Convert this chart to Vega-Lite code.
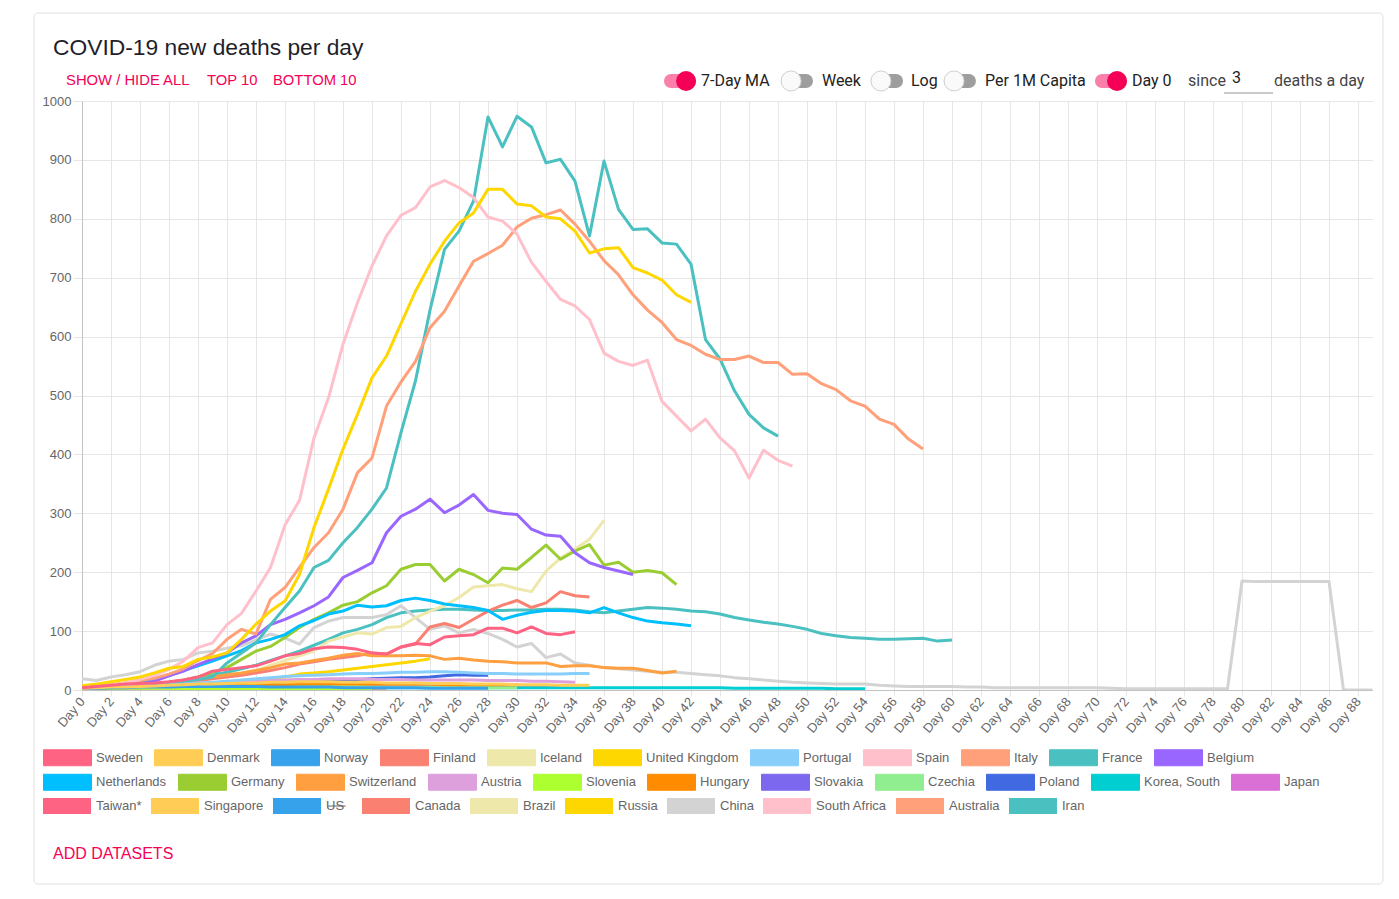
{
  "$schema": "https://vega.github.io/schema/vega-lite/v6.json",
  "width": 1290.5,
  "height": 589,
  "autosize": {"type": "pad"},
  "padding": {"left": 33, "top": 12, "right": 17, "bottom": 16},
  "background": "white",
  "config": {
    "view": {"stroke": null},
    "axis": {
      "labelFont": "Liberation Sans",
      "labelFontSize": 13,
      "labelColor": "#666666",
      "grid": true,
      "gridColor": "#e6e6e6",
      "tickColor": "#e6e6e6",
      "domainColor": "#c2c2c2",
      "labelOverlap": false,
      "title": null
    },
    "legend": {
      "title": null,
      "orient": "none",
      "legendX": -39,
      "direction": "horizontal",
      "gridAlign": "each",
      "symbolType": "M-3,-1H3V1H-3Z",
      "symbolSize": 256,
      "symbolOffset": 16,
      "symbolOpacity": 1,
      "labelOffset": 20,
      "columnPadding": 9,
      "labelFont": "Liberation Sans",
      "labelFontSize": 13,
      "labelColor": "#666666",
      "symbolLimit": 0
    }
  },
  "layer": [
    {
      "data": {"values": [
{"country":"Iran","day":0,"deaths":3},{"country":"Iran","day":1,"deaths":4},{"country":"Iran","day":2,"deaths":5},{"country":"Iran","day":3,"deaths":6},{"country":"Iran","day":4,"deaths":8},{"country":"Iran","day":5,"deaths":10},{"country":"Iran","day":6,"deaths":13},{"country":"Iran","day":7,"deaths":16},{"country":"Iran","day":8,"deaths":20},{"country":"Iran","day":9,"deaths":25},
{"country":"Iran","day":10,"deaths":30},{"country":"Iran","day":11,"deaths":36},{"country":"Iran","day":12,"deaths":42},{"country":"Iran","day":13,"deaths":50},{"country":"Iran","day":14,"deaths":58},{"country":"Iran","day":15,"deaths":66},{"country":"Iran","day":16,"deaths":76},{"country":"Iran","day":17,"deaths":86},{"country":"Iran","day":18,"deaths":97},{"country":"Iran","day":19,"deaths":103},
{"country":"Iran","day":20,"deaths":111},{"country":"Iran","day":21,"deaths":123},{"country":"Iran","day":22,"deaths":131},{"country":"Iran","day":23,"deaths":134},{"country":"Iran","day":24,"deaths":136},{"country":"Iran","day":25,"deaths":137},{"country":"Iran","day":26,"deaths":137},{"country":"Iran","day":27,"deaths":136},{"country":"Iran","day":28,"deaths":135},{"country":"Iran","day":29,"deaths":135},
{"country":"Iran","day":30,"deaths":136},{"country":"Iran","day":31,"deaths":136},{"country":"Iran","day":32,"deaths":137},{"country":"Iran","day":33,"deaths":137},{"country":"Iran","day":34,"deaths":136},{"country":"Iran","day":35,"deaths":133},{"country":"Iran","day":36,"deaths":131},{"country":"Iran","day":37,"deaths":134},{"country":"Iran","day":38,"deaths":137},{"country":"Iran","day":39,"deaths":140},
{"country":"Iran","day":40,"deaths":139},{"country":"Iran","day":41,"deaths":137},{"country":"Iran","day":42,"deaths":134},{"country":"Iran","day":43,"deaths":133},{"country":"Iran","day":44,"deaths":129},{"country":"Iran","day":45,"deaths":123},{"country":"Iran","day":46,"deaths":119},{"country":"Iran","day":47,"deaths":115},{"country":"Iran","day":48,"deaths":112},{"country":"Iran","day":49,"deaths":108},
{"country":"Iran","day":50,"deaths":103},{"country":"Iran","day":51,"deaths":96},{"country":"Iran","day":52,"deaths":92},{"country":"Iran","day":53,"deaths":89},{"country":"Iran","day":54,"deaths":88},{"country":"Iran","day":55,"deaths":86},{"country":"Iran","day":56,"deaths":86},{"country":"Iran","day":57,"deaths":87},{"country":"Iran","day":58,"deaths":88},{"country":"Iran","day":59,"deaths":83},{"country":"Iran","day":60,"deaths":85},
{"country":"Australia","day":0,"deaths":3},{"country":"Australia","day":1,"deaths":3},{"country":"Australia","day":2,"deaths":3},{"country":"Australia","day":3,"deaths":3},{"country":"Australia","day":4,"deaths":3},{"country":"Australia","day":5,"deaths":3},{"country":"Australia","day":6,"deaths":3},{"country":"Australia","day":7,"deaths":3},{"country":"Australia","day":8,"deaths":2},{"country":"Australia","day":9,"deaths":2},{"country":"Australia","day":10,"deaths":2},{"country":"Australia","day":11,"deaths":2},{"country":"Australia","day":12,"deaths":2},{"country":"Australia","day":13,"deaths":2},{"country":"Australia","day":14,"deaths":2},{"country":"Australia","day":15,"deaths":1},{"country":"Australia","day":16,"deaths":1},{"country":"Australia","day":17,"deaths":1},{"country":"Australia","day":18,"deaths":1},{"country":"Australia","day":19,"deaths":1},{"country":"Australia","day":20,"deaths":1},{"country":"Australia","day":21,"deaths":1},
{"country":"China","day":0,"deaths":19},{"country":"China","day":1,"deaths":16},{"country":"China","day":2,"deaths":22},{"country":"China","day":3,"deaths":26},{"country":"China","day":4,"deaths":31},{"country":"China","day":5,"deaths":42},{"country":"China","day":6,"deaths":49},{"country":"China","day":7,"deaths":52},{"country":"China","day":8,"deaths":63},{"country":"China","day":9,"deaths":66},
{"country":"China","day":10,"deaths":71},{"country":"China","day":11,"deaths":75},{"country":"China","day":12,"deaths":85},{"country":"China","day":13,"deaths":95},{"country":"China","day":14,"deaths":88},{"country":"China","day":15,"deaths":78},{"country":"China","day":16,"deaths":106},{"country":"China","day":17,"deaths":117},{"country":"China","day":18,"deaths":123},{"country":"China","day":19,"deaths":123},
{"country":"China","day":20,"deaths":123},{"country":"China","day":21,"deaths":128},{"country":"China","day":22,"deaths":143},{"country":"China","day":23,"deaths":123},{"country":"China","day":24,"deaths":103},{"country":"China","day":25,"deaths":109},{"country":"China","day":26,"deaths":97},{"country":"China","day":27,"deaths":103},{"country":"China","day":28,"deaths":96},{"country":"China","day":29,"deaths":86},
{"country":"China","day":30,"deaths":73},{"country":"China","day":31,"deaths":79},{"country":"China","day":32,"deaths":55},{"country":"China","day":33,"deaths":61},{"country":"China","day":34,"deaths":46},{"country":"China","day":35,"deaths":42},{"country":"China","day":36,"deaths":38},{"country":"China","day":37,"deaths":36},{"country":"China","day":38,"deaths":34},{"country":"China","day":39,"deaths":32},
{"country":"China","day":40,"deaths":30},{"country":"China","day":41,"deaths":30},{"country":"China","day":42,"deaths":28},{"country":"China","day":43,"deaths":26},{"country":"China","day":44,"deaths":24},{"country":"China","day":45,"deaths":21},{"country":"China","day":46,"deaths":19},{"country":"China","day":47,"deaths":17},{"country":"China","day":48,"deaths":15},{"country":"China","day":49,"deaths":13},
{"country":"China","day":50,"deaths":12},{"country":"China","day":51,"deaths":11},{"country":"China","day":52,"deaths":10},{"country":"China","day":53,"deaths":10},{"country":"China","day":54,"deaths":10},{"country":"China","day":55,"deaths":8},{"country":"China","day":56,"deaths":7},{"country":"China","day":57,"deaths":6},{"country":"China","day":58,"deaths":6},{"country":"China","day":59,"deaths":6},
{"country":"China","day":60,"deaths":6},{"country":"China","day":61,"deaths":5},{"country":"China","day":62,"deaths":5},{"country":"China","day":63,"deaths":4},{"country":"China","day":64,"deaths":4},{"country":"China","day":65,"deaths":4},{"country":"China","day":66,"deaths":4},{"country":"China","day":67,"deaths":4},{"country":"China","day":68,"deaths":4},{"country":"China","day":69,"deaths":4},
{"country":"China","day":70,"deaths":4},{"country":"China","day":71,"deaths":3},{"country":"China","day":72,"deaths":2},{"country":"China","day":73,"deaths":2},{"country":"China","day":74,"deaths":2},{"country":"China","day":75,"deaths":2},{"country":"China","day":76,"deaths":2},{"country":"China","day":77,"deaths":2},{"country":"China","day":78,"deaths":2},{"country":"China","day":79,"deaths":2},
{"country":"China","day":80,"deaths":185},{"country":"China","day":81,"deaths":184},{"country":"China","day":82,"deaths":184},{"country":"China","day":83,"deaths":184},{"country":"China","day":84,"deaths":184},{"country":"China","day":85,"deaths":184},{"country":"China","day":86,"deaths":184},{"country":"China","day":87,"deaths":0},{"country":"China","day":88,"deaths":0},{"country":"China","day":89,"deaths":0},
{"country":"Russia","day":0,"deaths":3},{"country":"Russia","day":1,"deaths":3},{"country":"Russia","day":2,"deaths":4},{"country":"Russia","day":3,"deaths":4},{"country":"Russia","day":4,"deaths":5},{"country":"Russia","day":5,"deaths":6},{"country":"Russia","day":6,"deaths":7},{"country":"Russia","day":7,"deaths":8},{"country":"Russia","day":8,"deaths":9},{"country":"Russia","day":9,"deaths":11},{"country":"Russia","day":10,"deaths":13},{"country":"Russia","day":11,"deaths":15},{"country":"Russia","day":12,"deaths":17},{"country":"Russia","day":13,"deaths":19},{"country":"Russia","day":14,"deaths":22},{"country":"Russia","day":15,"deaths":27},{"country":"Russia","day":16,"deaths":29},{"country":"Russia","day":17,"deaths":31},{"country":"Russia","day":18,"deaths":34},{"country":"Russia","day":19,"deaths":37},{"country":"Russia","day":20,"deaths":40},{"country":"Russia","day":21,"deaths":43},{"country":"Russia","day":22,"deaths":46},{"country":"Russia","day":23,"deaths":49},{"country":"Russia","day":24,"deaths":53},
{"country":"Brazil","day":0,"deaths":3},{"country":"Brazil","day":1,"deaths":4},{"country":"Brazil","day":2,"deaths":5},{"country":"Brazil","day":3,"deaths":6},{"country":"Brazil","day":4,"deaths":8},{"country":"Brazil","day":5,"deaths":10},{"country":"Brazil","day":6,"deaths":12},{"country":"Brazil","day":7,"deaths":14},{"country":"Brazil","day":8,"deaths":17},{"country":"Brazil","day":9,"deaths":20},
{"country":"Brazil","day":10,"deaths":24},{"country":"Brazil","day":11,"deaths":28},{"country":"Brazil","day":12,"deaths":33},{"country":"Brazil","day":13,"deaths":42},{"country":"Brazil","day":14,"deaths":50},{"country":"Brazil","day":15,"deaths":58},{"country":"Brazil","day":16,"deaths":66},{"country":"Brazil","day":17,"deaths":83},{"country":"Brazil","day":18,"deaths":90},{"country":"Brazil","day":19,"deaths":97},
{"country":"Brazil","day":20,"deaths":95},{"country":"Brazil","day":21,"deaths":106},{"country":"Brazil","day":22,"deaths":108},{"country":"Brazil","day":23,"deaths":123},{"country":"Brazil","day":24,"deaths":134},{"country":"Brazil","day":25,"deaths":143},{"country":"Brazil","day":26,"deaths":157},{"country":"Brazil","day":27,"deaths":175},{"country":"Brazil","day":28,"deaths":177},{"country":"Brazil","day":29,"deaths":179},
{"country":"Brazil","day":30,"deaths":172},{"country":"Brazil","day":31,"deaths":167},{"country":"Brazil","day":32,"deaths":202},{"country":"Brazil","day":33,"deaths":224},{"country":"Brazil","day":34,"deaths":239},{"country":"Brazil","day":35,"deaths":256},{"country":"Brazil","day":36,"deaths":288},
{"country":"Canada","day":0,"deaths":3},{"country":"Canada","day":1,"deaths":4},{"country":"Canada","day":2,"deaths":5},{"country":"Canada","day":3,"deaths":6},{"country":"Canada","day":4,"deaths":7},{"country":"Canada","day":5,"deaths":9},{"country":"Canada","day":6,"deaths":11},{"country":"Canada","day":7,"deaths":13},{"country":"Canada","day":8,"deaths":16},{"country":"Canada","day":9,"deaths":19},
{"country":"Canada","day":10,"deaths":22},{"country":"Canada","day":11,"deaths":25},{"country":"Canada","day":12,"deaths":29},{"country":"Canada","day":13,"deaths":33},{"country":"Canada","day":14,"deaths":38},{"country":"Canada","day":15,"deaths":44},{"country":"Canada","day":16,"deaths":48},{"country":"Canada","day":17,"deaths":52},{"country":"Canada","day":18,"deaths":55},{"country":"Canada","day":19,"deaths":58},
{"country":"Canada","day":20,"deaths":63},{"country":"Canada","day":21,"deaths":61},{"country":"Canada","day":22,"deaths":73},{"country":"Canada","day":23,"deaths":78},{"country":"Canada","day":24,"deaths":107},{"country":"Canada","day":25,"deaths":113},{"country":"Canada","day":26,"deaths":106},{"country":"Canada","day":27,"deaths":120},{"country":"Canada","day":28,"deaths":134},{"country":"Canada","day":29,"deaths":144},
{"country":"Canada","day":30,"deaths":152},{"country":"Canada","day":31,"deaths":140},{"country":"Canada","day":32,"deaths":148},{"country":"Canada","day":33,"deaths":167},{"country":"Canada","day":34,"deaths":160},{"country":"Canada","day":35,"deaths":158},
{"country":"Japan","day":0,"deaths":3},{"country":"Japan","day":1,"deaths":3},{"country":"Japan","day":2,"deaths":3},{"country":"Japan","day":3,"deaths":3},{"country":"Japan","day":4,"deaths":3},{"country":"Japan","day":5,"deaths":4},{"country":"Japan","day":6,"deaths":4},{"country":"Japan","day":7,"deaths":4},{"country":"Japan","day":8,"deaths":4},{"country":"Japan","day":9,"deaths":5},{"country":"Japan","day":10,"deaths":5},{"country":"Japan","day":11,"deaths":5},{"country":"Japan","day":12,"deaths":6},{"country":"Japan","day":13,"deaths":6},{"country":"Japan","day":14,"deaths":6},{"country":"Japan","day":15,"deaths":7},{"country":"Japan","day":16,"deaths":7},{"country":"Japan","day":17,"deaths":7},{"country":"Japan","day":18,"deaths":8},{"country":"Japan","day":19,"deaths":8},{"country":"Japan","day":20,"deaths":8},{"country":"Japan","day":21,"deaths":8},{"country":"Japan","day":22,"deaths":8},{"country":"Japan","day":23,"deaths":8},{"country":"Japan","day":24,"deaths":8},{"country":"Japan","day":25,"deaths":7},{"country":"Japan","day":26,"deaths":7},{"country":"Japan","day":27,"deaths":7},{"country":"Japan","day":28,"deaths":7},{"country":"Japan","day":29,"deaths":7},{"country":"Japan","day":30,"deaths":6},{"country":"Japan","day":31,"deaths":6},{"country":"Japan","day":32,"deaths":6},{"country":"Japan","day":33,"deaths":6},
{"country":"Korea, South","day":0,"deaths":4},{"country":"Korea, South","day":1,"deaths":5},{"country":"Korea, South","day":2,"deaths":5},{"country":"Korea, South","day":3,"deaths":6},{"country":"Korea, South","day":4,"deaths":6},{"country":"Korea, South","day":5,"deaths":6},{"country":"Korea, South","day":6,"deaths":6},{"country":"Korea, South","day":7,"deaths":6},{"country":"Korea, South","day":8,"deaths":6},{"country":"Korea, South","day":9,"deaths":5},
{"country":"Korea, South","day":10,"deaths":5},{"country":"Korea, South","day":11,"deaths":5},{"country":"Korea, South","day":12,"deaths":5},{"country":"Korea, South","day":13,"deaths":5},{"country":"Korea, South","day":14,"deaths":5},{"country":"Korea, South","day":15,"deaths":5},{"country":"Korea, South","day":16,"deaths":5},{"country":"Korea, South","day":17,"deaths":5},{"country":"Korea, South","day":18,"deaths":5},{"country":"Korea, South","day":19,"deaths":5},
{"country":"Korea, South","day":20,"deaths":4},{"country":"Korea, South","day":21,"deaths":4},{"country":"Korea, South","day":22,"deaths":4},{"country":"Korea, South","day":23,"deaths":4},{"country":"Korea, South","day":24,"deaths":4},{"country":"Korea, South","day":25,"deaths":4},{"country":"Korea, South","day":26,"deaths":4},{"country":"Korea, South","day":27,"deaths":4},{"country":"Korea, South","day":28,"deaths":4},{"country":"Korea, South","day":29,"deaths":4},
{"country":"Korea, South","day":30,"deaths":4},{"country":"Korea, South","day":31,"deaths":4},{"country":"Korea, South","day":32,"deaths":4},{"country":"Korea, South","day":33,"deaths":4},{"country":"Korea, South","day":34,"deaths":4},{"country":"Korea, South","day":35,"deaths":4},{"country":"Korea, South","day":36,"deaths":4},{"country":"Korea, South","day":37,"deaths":4},{"country":"Korea, South","day":38,"deaths":4},{"country":"Korea, South","day":39,"deaths":4},
{"country":"Korea, South","day":40,"deaths":4},{"country":"Korea, South","day":41,"deaths":4},{"country":"Korea, South","day":42,"deaths":4},{"country":"Korea, South","day":43,"deaths":4},{"country":"Korea, South","day":44,"deaths":4},{"country":"Korea, South","day":45,"deaths":3},{"country":"Korea, South","day":46,"deaths":3},{"country":"Korea, South","day":47,"deaths":3},{"country":"Korea, South","day":48,"deaths":3},{"country":"Korea, South","day":49,"deaths":3},
{"country":"Korea, South","day":50,"deaths":3},{"country":"Korea, South","day":51,"deaths":3},{"country":"Korea, South","day":52,"deaths":2},{"country":"Korea, South","day":53,"deaths":2},{"country":"Korea, South","day":54,"deaths":2},
{"country":"Poland","day":0,"deaths":3},{"country":"Poland","day":1,"deaths":4},{"country":"Poland","day":2,"deaths":4},{"country":"Poland","day":3,"deaths":5},{"country":"Poland","day":4,"deaths":5},{"country":"Poland","day":5,"deaths":6},{"country":"Poland","day":6,"deaths":6},{"country":"Poland","day":7,"deaths":7},{"country":"Poland","day":8,"deaths":8},{"country":"Poland","day":9,"deaths":8},{"country":"Poland","day":10,"deaths":9},{"country":"Poland","day":11,"deaths":10},{"country":"Poland","day":12,"deaths":11},{"country":"Poland","day":13,"deaths":12},{"country":"Poland","day":14,"deaths":13},{"country":"Poland","day":15,"deaths":14},{"country":"Poland","day":16,"deaths":15},{"country":"Poland","day":17,"deaths":16},{"country":"Poland","day":18,"deaths":17},{"country":"Poland","day":19,"deaths":18},{"country":"Poland","day":20,"deaths":19},{"country":"Poland","day":21,"deaths":20},{"country":"Poland","day":22,"deaths":21},{"country":"Poland","day":23,"deaths":21},{"country":"Poland","day":24,"deaths":22},{"country":"Poland","day":25,"deaths":24},{"country":"Poland","day":26,"deaths":26},{"country":"Poland","day":27,"deaths":25},{"country":"Poland","day":28,"deaths":25},
{"country":"Czechia","day":0,"deaths":3},{"country":"Czechia","day":1,"deaths":3},{"country":"Czechia","day":2,"deaths":4},{"country":"Czechia","day":3,"deaths":4},{"country":"Czechia","day":4,"deaths":5},{"country":"Czechia","day":5,"deaths":5},{"country":"Czechia","day":6,"deaths":6},{"country":"Czechia","day":7,"deaths":6},{"country":"Czechia","day":8,"deaths":7},{"country":"Czechia","day":9,"deaths":7},{"country":"Czechia","day":10,"deaths":7},{"country":"Czechia","day":11,"deaths":7},{"country":"Czechia","day":12,"deaths":7},{"country":"Czechia","day":13,"deaths":7},{"country":"Czechia","day":14,"deaths":6},{"country":"Czechia","day":15,"deaths":6},{"country":"Czechia","day":16,"deaths":6},{"country":"Czechia","day":17,"deaths":6},{"country":"Czechia","day":18,"deaths":6},{"country":"Czechia","day":19,"deaths":6},{"country":"Czechia","day":20,"deaths":5},{"country":"Czechia","day":21,"deaths":5},{"country":"Czechia","day":22,"deaths":5},{"country":"Czechia","day":23,"deaths":5},{"country":"Czechia","day":24,"deaths":5},{"country":"Czechia","day":25,"deaths":5},{"country":"Czechia","day":26,"deaths":4},{"country":"Czechia","day":27,"deaths":4},{"country":"Czechia","day":28,"deaths":4},{"country":"Czechia","day":29,"deaths":4},{"country":"Czechia","day":30,"deaths":4},
{"country":"Hungary","day":0,"deaths":3},{"country":"Hungary","day":1,"deaths":3},{"country":"Hungary","day":2,"deaths":4},{"country":"Hungary","day":3,"deaths":4},{"country":"Hungary","day":4,"deaths":5},{"country":"Hungary","day":5,"deaths":5},{"country":"Hungary","day":6,"deaths":6},{"country":"Hungary","day":7,"deaths":6},{"country":"Hungary","day":8,"deaths":7},{"country":"Hungary","day":9,"deaths":7},{"country":"Hungary","day":10,"deaths":8},{"country":"Hungary","day":11,"deaths":8},{"country":"Hungary","day":12,"deaths":9},{"country":"Hungary","day":13,"deaths":9},{"country":"Hungary","day":14,"deaths":9},{"country":"Hungary","day":15,"deaths":10},{"country":"Hungary","day":16,"deaths":10},{"country":"Hungary","day":17,"deaths":10},{"country":"Hungary","day":18,"deaths":10},{"country":"Hungary","day":19,"deaths":10},{"country":"Hungary","day":20,"deaths":10},{"country":"Hungary","day":21,"deaths":10},{"country":"Hungary","day":22,"deaths":10},{"country":"Hungary","day":23,"deaths":10},{"country":"Hungary","day":24,"deaths":10},{"country":"Hungary","day":25,"deaths":9},{"country":"Hungary","day":26,"deaths":9},{"country":"Hungary","day":27,"deaths":9},{"country":"Hungary","day":28,"deaths":9},{"country":"Hungary","day":29,"deaths":9},{"country":"Hungary","day":30,"deaths":9},
{"country":"Slovenia","day":0,"deaths":3},{"country":"Slovenia","day":1,"deaths":3},{"country":"Slovenia","day":2,"deaths":3},{"country":"Slovenia","day":3,"deaths":3},{"country":"Slovenia","day":4,"deaths":3},{"country":"Slovenia","day":5,"deaths":3},{"country":"Slovenia","day":6,"deaths":3},{"country":"Slovenia","day":7,"deaths":2},{"country":"Slovenia","day":8,"deaths":2},{"country":"Slovenia","day":9,"deaths":2},{"country":"Slovenia","day":10,"deaths":2},{"country":"Slovenia","day":11,"deaths":2},{"country":"Slovenia","day":12,"deaths":2},{"country":"Slovenia","day":13,"deaths":2},{"country":"Slovenia","day":14,"deaths":1},{"country":"Slovenia","day":15,"deaths":1},{"country":"Slovenia","day":16,"deaths":1},{"country":"Slovenia","day":17,"deaths":1},{"country":"Slovenia","day":18,"deaths":1},{"country":"Slovenia","day":19,"deaths":1},{"country":"Slovenia","day":20,"deaths":1},
{"country":"Austria","day":0,"deaths":3},{"country":"Austria","day":1,"deaths":4},{"country":"Austria","day":2,"deaths":5},{"country":"Austria","day":3,"deaths":6},{"country":"Austria","day":4,"deaths":7},{"country":"Austria","day":5,"deaths":8},{"country":"Austria","day":6,"deaths":9},{"country":"Austria","day":7,"deaths":10},{"country":"Austria","day":8,"deaths":11},{"country":"Austria","day":9,"deaths":12},{"country":"Austria","day":10,"deaths":13},{"country":"Austria","day":11,"deaths":14},{"country":"Austria","day":12,"deaths":15},{"country":"Austria","day":13,"deaths":16},{"country":"Austria","day":14,"deaths":17},{"country":"Austria","day":15,"deaths":18},{"country":"Austria","day":16,"deaths":18},{"country":"Austria","day":17,"deaths":19},{"country":"Austria","day":18,"deaths":19},{"country":"Austria","day":19,"deaths":19},{"country":"Austria","day":20,"deaths":18},{"country":"Austria","day":21,"deaths":18},{"country":"Austria","day":22,"deaths":18},{"country":"Austria","day":23,"deaths":17},{"country":"Austria","day":24,"deaths":17},{"country":"Austria","day":25,"deaths":17},{"country":"Austria","day":26,"deaths":17},{"country":"Austria","day":27,"deaths":17},{"country":"Austria","day":28,"deaths":16},{"country":"Austria","day":29,"deaths":16},{"country":"Austria","day":30,"deaths":16},{"country":"Austria","day":31,"deaths":15},{"country":"Austria","day":32,"deaths":15},{"country":"Austria","day":33,"deaths":14},{"country":"Austria","day":34,"deaths":13},
{"country":"Switzerland","day":0,"deaths":3},{"country":"Switzerland","day":1,"deaths":4},{"country":"Switzerland","day":2,"deaths":5},{"country":"Switzerland","day":3,"deaths":7},{"country":"Switzerland","day":4,"deaths":9},{"country":"Switzerland","day":5,"deaths":11},{"country":"Switzerland","day":6,"deaths":13},{"country":"Switzerland","day":7,"deaths":16},{"country":"Switzerland","day":8,"deaths":19},{"country":"Switzerland","day":9,"deaths":22},
{"country":"Switzerland","day":10,"deaths":26},{"country":"Switzerland","day":11,"deaths":29},{"country":"Switzerland","day":12,"deaths":33},{"country":"Switzerland","day":13,"deaths":38},{"country":"Switzerland","day":14,"deaths":44},{"country":"Switzerland","day":15,"deaths":46},{"country":"Switzerland","day":16,"deaths":50},{"country":"Switzerland","day":17,"deaths":54},{"country":"Switzerland","day":18,"deaths":59},{"country":"Switzerland","day":19,"deaths":62},
{"country":"Switzerland","day":20,"deaths":58},{"country":"Switzerland","day":21,"deaths":58},{"country":"Switzerland","day":22,"deaths":58},{"country":"Switzerland","day":23,"deaths":59},{"country":"Switzerland","day":24,"deaths":58},{"country":"Switzerland","day":25,"deaths":52},{"country":"Switzerland","day":26,"deaths":54},{"country":"Switzerland","day":27,"deaths":51},{"country":"Switzerland","day":28,"deaths":49},{"country":"Switzerland","day":29,"deaths":48},
{"country":"Switzerland","day":30,"deaths":46},{"country":"Switzerland","day":31,"deaths":46},{"country":"Switzerland","day":32,"deaths":46},{"country":"Switzerland","day":33,"deaths":40},{"country":"Switzerland","day":34,"deaths":41},{"country":"Switzerland","day":35,"deaths":41},{"country":"Switzerland","day":36,"deaths":38},{"country":"Switzerland","day":37,"deaths":37},{"country":"Switzerland","day":38,"deaths":37},{"country":"Switzerland","day":39,"deaths":33},{"country":"Switzerland","day":40,"deaths":29},{"country":"Switzerland","day":41,"deaths":32},
{"country":"Germany","day":0,"deaths":3},{"country":"Germany","day":1,"deaths":3},{"country":"Germany","day":2,"deaths":4},{"country":"Germany","day":3,"deaths":5},{"country":"Germany","day":4,"deaths":7},{"country":"Germany","day":5,"deaths":9},{"country":"Germany","day":6,"deaths":12},{"country":"Germany","day":7,"deaths":17},{"country":"Germany","day":8,"deaths":22},{"country":"Germany","day":9,"deaths":30},
{"country":"Germany","day":10,"deaths":38},{"country":"Germany","day":11,"deaths":52},{"country":"Germany","day":12,"deaths":66},{"country":"Germany","day":13,"deaths":74},{"country":"Germany","day":14,"deaths":89},{"country":"Germany","day":15,"deaths":106},{"country":"Germany","day":16,"deaths":120},{"country":"Germany","day":17,"deaths":131},{"country":"Germany","day":18,"deaths":144},{"country":"Germany","day":19,"deaths":150},
{"country":"Germany","day":20,"deaths":165},{"country":"Germany","day":21,"deaths":177},{"country":"Germany","day":22,"deaths":205},{"country":"Germany","day":23,"deaths":213},{"country":"Germany","day":24,"deaths":213},{"country":"Germany","day":25,"deaths":185},{"country":"Germany","day":26,"deaths":205},{"country":"Germany","day":27,"deaths":196},{"country":"Germany","day":28,"deaths":182},{"country":"Germany","day":29,"deaths":207},
{"country":"Germany","day":30,"deaths":205},{"country":"Germany","day":31,"deaths":225},{"country":"Germany","day":32,"deaths":246},{"country":"Germany","day":33,"deaths":222},{"country":"Germany","day":34,"deaths":236},{"country":"Germany","day":35,"deaths":247},{"country":"Germany","day":36,"deaths":212},{"country":"Germany","day":37,"deaths":217},{"country":"Germany","day":38,"deaths":200},{"country":"Germany","day":39,"deaths":203},{"country":"Germany","day":40,"deaths":199},{"country":"Germany","day":41,"deaths":179},
{"country":"Netherlands","day":0,"deaths":3},{"country":"Netherlands","day":1,"deaths":4},{"country":"Netherlands","day":2,"deaths":6},{"country":"Netherlands","day":3,"deaths":8},{"country":"Netherlands","day":4,"deaths":12},{"country":"Netherlands","day":5,"deaths":18},{"country":"Netherlands","day":6,"deaths":25},{"country":"Netherlands","day":7,"deaths":33},{"country":"Netherlands","day":8,"deaths":41},{"country":"Netherlands","day":9,"deaths":49},
{"country":"Netherlands","day":10,"deaths":58},{"country":"Netherlands","day":11,"deaths":67},{"country":"Netherlands","day":12,"deaths":80},{"country":"Netherlands","day":13,"deaths":86},{"country":"Netherlands","day":14,"deaths":94},{"country":"Netherlands","day":15,"deaths":109},{"country":"Netherlands","day":16,"deaths":118},{"country":"Netherlands","day":17,"deaths":129},{"country":"Netherlands","day":18,"deaths":134},{"country":"Netherlands","day":19,"deaths":144},
{"country":"Netherlands","day":20,"deaths":141},{"country":"Netherlands","day":21,"deaths":143},{"country":"Netherlands","day":22,"deaths":152},{"country":"Netherlands","day":23,"deaths":156},{"country":"Netherlands","day":24,"deaths":152},{"country":"Netherlands","day":25,"deaths":146},{"country":"Netherlands","day":26,"deaths":143},{"country":"Netherlands","day":27,"deaths":140},{"country":"Netherlands","day":28,"deaths":135},{"country":"Netherlands","day":29,"deaths":120},
{"country":"Netherlands","day":30,"deaths":127},{"country":"Netherlands","day":31,"deaths":132},{"country":"Netherlands","day":32,"deaths":135},{"country":"Netherlands","day":33,"deaths":135},{"country":"Netherlands","day":34,"deaths":134},{"country":"Netherlands","day":35,"deaths":131},{"country":"Netherlands","day":36,"deaths":140},{"country":"Netherlands","day":37,"deaths":131},{"country":"Netherlands","day":38,"deaths":123},{"country":"Netherlands","day":39,"deaths":117},{"country":"Netherlands","day":40,"deaths":114},{"country":"Netherlands","day":41,"deaths":112},{"country":"Netherlands","day":42,"deaths":109},
{"country":"Belgium","day":0,"deaths":3},{"country":"Belgium","day":1,"deaths":4},{"country":"Belgium","day":2,"deaths":5},{"country":"Belgium","day":3,"deaths":7},{"country":"Belgium","day":4,"deaths":10},{"country":"Belgium","day":5,"deaths":15},{"country":"Belgium","day":6,"deaths":24},{"country":"Belgium","day":7,"deaths":32},{"country":"Belgium","day":8,"deaths":43},{"country":"Belgium","day":9,"deaths":53},
{"country":"Belgium","day":10,"deaths":63},{"country":"Belgium","day":11,"deaths":80},{"country":"Belgium","day":12,"deaths":92},{"country":"Belgium","day":13,"deaths":111},{"country":"Belgium","day":14,"deaths":120},{"country":"Belgium","day":15,"deaths":131},{"country":"Belgium","day":16,"deaths":143},{"country":"Belgium","day":17,"deaths":158},{"country":"Belgium","day":18,"deaths":191},{"country":"Belgium","day":19,"deaths":203},
{"country":"Belgium","day":20,"deaths":216},{"country":"Belgium","day":21,"deaths":267},{"country":"Belgium","day":22,"deaths":295},{"country":"Belgium","day":23,"deaths":307},{"country":"Belgium","day":24,"deaths":324},{"country":"Belgium","day":25,"deaths":301},{"country":"Belgium","day":26,"deaths":314},{"country":"Belgium","day":27,"deaths":332},{"country":"Belgium","day":28,"deaths":305},{"country":"Belgium","day":29,"deaths":300},
{"country":"Belgium","day":30,"deaths":298},{"country":"Belgium","day":31,"deaths":273},{"country":"Belgium","day":32,"deaths":263},{"country":"Belgium","day":33,"deaths":261},{"country":"Belgium","day":34,"deaths":233},{"country":"Belgium","day":35,"deaths":216},{"country":"Belgium","day":36,"deaths":208},{"country":"Belgium","day":37,"deaths":202},{"country":"Belgium","day":38,"deaths":196},
{"country":"France","day":0,"deaths":3},{"country":"France","day":1,"deaths":4},{"country":"France","day":2,"deaths":5},{"country":"France","day":3,"deaths":6},{"country":"France","day":4,"deaths":8},{"country":"France","day":5,"deaths":10},{"country":"France","day":6,"deaths":12},{"country":"France","day":7,"deaths":15},{"country":"France","day":8,"deaths":18},{"country":"France","day":9,"deaths":22},
{"country":"France","day":10,"deaths":46},{"country":"France","day":11,"deaths":63},{"country":"France","day":12,"deaths":80},{"country":"France","day":13,"deaths":111},{"country":"France","day":14,"deaths":140},{"country":"France","day":15,"deaths":168},{"country":"France","day":16,"deaths":208},{"country":"France","day":17,"deaths":220},{"country":"France","day":18,"deaths":250},{"country":"France","day":19,"deaths":276},
{"country":"France","day":20,"deaths":307},{"country":"France","day":21,"deaths":343},{"country":"France","day":22,"deaths":437},{"country":"France","day":23,"deaths":525},{"country":"France","day":24,"deaths":645},{"country":"France","day":25,"deaths":748},{"country":"France","day":26,"deaths":779},{"country":"France","day":27,"deaths":830},{"country":"France","day":28,"deaths":973},{"country":"France","day":29,"deaths":922},
{"country":"France","day":30,"deaths":974},{"country":"France","day":31,"deaths":956},{"country":"France","day":32,"deaths":895},{"country":"France","day":33,"deaths":901},{"country":"France","day":34,"deaths":864},{"country":"France","day":35,"deaths":771},{"country":"France","day":36,"deaths":898},{"country":"France","day":37,"deaths":816},{"country":"France","day":38,"deaths":782},{"country":"France","day":39,"deaths":783},
{"country":"France","day":40,"deaths":759},{"country":"France","day":41,"deaths":757},{"country":"France","day":42,"deaths":723},{"country":"France","day":43,"deaths":595},{"country":"France","day":44,"deaths":562},{"country":"France","day":45,"deaths":508},{"country":"France","day":46,"deaths":468},{"country":"France","day":47,"deaths":445},{"country":"France","day":48,"deaths":431},
{"country":"Italy","day":0,"deaths":4},{"country":"Italy","day":1,"deaths":6},{"country":"Italy","day":2,"deaths":9},{"country":"Italy","day":3,"deaths":12},{"country":"Italy","day":4,"deaths":16},{"country":"Italy","day":5,"deaths":20},{"country":"Italy","day":6,"deaths":27},{"country":"Italy","day":7,"deaths":36},{"country":"Italy","day":8,"deaths":50},{"country":"Italy","day":9,"deaths":62},
{"country":"Italy","day":10,"deaths":86},{"country":"Italy","day":11,"deaths":103},{"country":"Italy","day":12,"deaths":95},{"country":"Italy","day":13,"deaths":154},{"country":"Italy","day":14,"deaths":174},{"country":"Italy","day":15,"deaths":208},{"country":"Italy","day":16,"deaths":242},{"country":"Italy","day":17,"deaths":267},{"country":"Italy","day":18,"deaths":307},{"country":"Italy","day":19,"deaths":369},
{"country":"Italy","day":20,"deaths":394},{"country":"Italy","day":21,"deaths":482},{"country":"Italy","day":22,"deaths":523},{"country":"Italy","day":23,"deaths":558},{"country":"Italy","day":24,"deaths":615},{"country":"Italy","day":25,"deaths":643},{"country":"Italy","day":26,"deaths":686},{"country":"Italy","day":27,"deaths":728},{"country":"Italy","day":28,"deaths":741},{"country":"Italy","day":29,"deaths":755},
{"country":"Italy","day":30,"deaths":786},{"country":"Italy","day":31,"deaths":801},{"country":"Italy","day":32,"deaths":807},{"country":"Italy","day":33,"deaths":815},{"country":"Italy","day":34,"deaths":791},{"country":"Italy","day":35,"deaths":762},{"country":"Italy","day":36,"deaths":729},{"country":"Italy","day":37,"deaths":705},{"country":"Italy","day":38,"deaths":671},{"country":"Italy","day":39,"deaths":645},
{"country":"Italy","day":40,"deaths":624},{"country":"Italy","day":41,"deaths":595},{"country":"Italy","day":42,"deaths":585},{"country":"Italy","day":43,"deaths":570},{"country":"Italy","day":44,"deaths":561},{"country":"Italy","day":45,"deaths":561},{"country":"Italy","day":46,"deaths":567},{"country":"Italy","day":47,"deaths":556},{"country":"Italy","day":48,"deaths":556},{"country":"Italy","day":49,"deaths":536},
{"country":"Italy","day":50,"deaths":537},{"country":"Italy","day":51,"deaths":520},{"country":"Italy","day":52,"deaths":510},{"country":"Italy","day":53,"deaths":491},{"country":"Italy","day":54,"deaths":482},{"country":"Italy","day":55,"deaths":460},{"country":"Italy","day":56,"deaths":451},{"country":"Italy","day":57,"deaths":426},{"country":"Italy","day":58,"deaths":409},
{"country":"Spain","day":0,"deaths":3},{"country":"Spain","day":1,"deaths":5},{"country":"Spain","day":2,"deaths":8},{"country":"Spain","day":3,"deaths":12},{"country":"Spain","day":4,"deaths":18},{"country":"Spain","day":5,"deaths":25},{"country":"Spain","day":6,"deaths":35},{"country":"Spain","day":7,"deaths":49},{"country":"Spain","day":8,"deaths":72},{"country":"Spain","day":9,"deaths":80},
{"country":"Spain","day":10,"deaths":111},{"country":"Spain","day":11,"deaths":130},{"country":"Spain","day":12,"deaths":168},{"country":"Spain","day":13,"deaths":208},{"country":"Spain","day":14,"deaths":280},{"country":"Spain","day":15,"deaths":322},{"country":"Spain","day":16,"deaths":428},{"country":"Spain","day":17,"deaths":496},{"country":"Spain","day":18,"deaths":587},{"country":"Spain","day":19,"deaths":658},
{"country":"Spain","day":20,"deaths":720},{"country":"Spain","day":21,"deaths":771},{"country":"Spain","day":22,"deaths":806},{"country":"Spain","day":23,"deaths":819},{"country":"Spain","day":24,"deaths":854},{"country":"Spain","day":25,"deaths":865},{"country":"Spain","day":26,"deaths":853},{"country":"Spain","day":27,"deaths":836},{"country":"Spain","day":28,"deaths":803},{"country":"Spain","day":29,"deaths":796},
{"country":"Spain","day":30,"deaths":774},{"country":"Spain","day":31,"deaths":726},{"country":"Spain","day":32,"deaths":694},{"country":"Spain","day":33,"deaths":663},{"country":"Spain","day":34,"deaths":652},{"country":"Spain","day":35,"deaths":629},{"country":"Spain","day":36,"deaths":572},{"country":"Spain","day":37,"deaths":558},{"country":"Spain","day":38,"deaths":551},{"country":"Spain","day":39,"deaths":560},
{"country":"Spain","day":40,"deaths":490},{"country":"Spain","day":41,"deaths":465},{"country":"Spain","day":42,"deaths":440},{"country":"Spain","day":43,"deaths":460},{"country":"Spain","day":44,"deaths":428},{"country":"Spain","day":45,"deaths":406},{"country":"Spain","day":46,"deaths":360},{"country":"Spain","day":47,"deaths":407},{"country":"Spain","day":48,"deaths":390},{"country":"Spain","day":49,"deaths":380},
{"country":"Portugal","day":0,"deaths":3},{"country":"Portugal","day":1,"deaths":4},{"country":"Portugal","day":2,"deaths":5},{"country":"Portugal","day":3,"deaths":6},{"country":"Portugal","day":4,"deaths":7},{"country":"Portugal","day":5,"deaths":8},{"country":"Portugal","day":6,"deaths":9},{"country":"Portugal","day":7,"deaths":10},{"country":"Portugal","day":8,"deaths":12},{"country":"Portugal","day":9,"deaths":13},{"country":"Portugal","day":10,"deaths":15},{"country":"Portugal","day":11,"deaths":17},{"country":"Portugal","day":12,"deaths":19},{"country":"Portugal","day":13,"deaths":21},{"country":"Portugal","day":14,"deaths":23},{"country":"Portugal","day":15,"deaths":24},{"country":"Portugal","day":16,"deaths":25},{"country":"Portugal","day":17,"deaths":26},{"country":"Portugal","day":18,"deaths":27},{"country":"Portugal","day":19,"deaths":28},{"country":"Portugal","day":20,"deaths":28},{"country":"Portugal","day":21,"deaths":29},{"country":"Portugal","day":22,"deaths":30},{"country":"Portugal","day":23,"deaths":30},{"country":"Portugal","day":24,"deaths":31},{"country":"Portugal","day":25,"deaths":31},{"country":"Portugal","day":26,"deaths":30},{"country":"Portugal","day":27,"deaths":29},{"country":"Portugal","day":28,"deaths":28},{"country":"Portugal","day":29,"deaths":28},{"country":"Portugal","day":30,"deaths":27},{"country":"Portugal","day":31,"deaths":27},{"country":"Portugal","day":32,"deaths":27},{"country":"Portugal","day":33,"deaths":27},{"country":"Portugal","day":34,"deaths":28},{"country":"Portugal","day":35,"deaths":28},
{"country":"United Kingdom","day":0,"deaths":7},{"country":"United Kingdom","day":1,"deaths":10},{"country":"United Kingdom","day":2,"deaths":14},{"country":"United Kingdom","day":3,"deaths":18},{"country":"United Kingdom","day":4,"deaths":22},{"country":"United Kingdom","day":5,"deaths":29},{"country":"United Kingdom","day":6,"deaths":37},{"country":"United Kingdom","day":7,"deaths":40},{"country":"United Kingdom","day":8,"deaths":52},{"country":"United Kingdom","day":9,"deaths":56},
{"country":"United Kingdom","day":10,"deaths":63},{"country":"United Kingdom","day":11,"deaths":86},{"country":"United Kingdom","day":12,"deaths":112},{"country":"United Kingdom","day":13,"deaths":134},{"country":"United Kingdom","day":14,"deaths":151},{"country":"United Kingdom","day":15,"deaths":196},{"country":"United Kingdom","day":16,"deaths":276},{"country":"United Kingdom","day":17,"deaths":341},{"country":"United Kingdom","day":18,"deaths":409},{"country":"United Kingdom","day":19,"deaths":468},
{"country":"United Kingdom","day":20,"deaths":530},{"country":"United Kingdom","day":21,"deaths":567},{"country":"United Kingdom","day":22,"deaths":622},{"country":"United Kingdom","day":23,"deaths":677},{"country":"United Kingdom","day":24,"deaths":723},{"country":"United Kingdom","day":25,"deaths":762},{"country":"United Kingdom","day":26,"deaths":793},{"country":"United Kingdom","day":27,"deaths":810},{"country":"United Kingdom","day":28,"deaths":850},{"country":"United Kingdom","day":29,"deaths":850},
{"country":"United Kingdom","day":30,"deaths":825},{"country":"United Kingdom","day":31,"deaths":822},{"country":"United Kingdom","day":32,"deaths":803},{"country":"United Kingdom","day":33,"deaths":800},{"country":"United Kingdom","day":34,"deaths":779},{"country":"United Kingdom","day":35,"deaths":742},{"country":"United Kingdom","day":36,"deaths":749},{"country":"United Kingdom","day":37,"deaths":751},{"country":"United Kingdom","day":38,"deaths":717},{"country":"United Kingdom","day":39,"deaths":708},
{"country":"United Kingdom","day":40,"deaths":696},{"country":"United Kingdom","day":41,"deaths":671},{"country":"United Kingdom","day":42,"deaths":658},
{"country":"Norway","day":0,"deaths":3},{"country":"Norway","day":1,"deaths":3},{"country":"Norway","day":2,"deaths":4},{"country":"Norway","day":3,"deaths":4},{"country":"Norway","day":4,"deaths":5},{"country":"Norway","day":5,"deaths":5},{"country":"Norway","day":6,"deaths":5},{"country":"Norway","day":7,"deaths":6},{"country":"Norway","day":8,"deaths":6},{"country":"Norway","day":9,"deaths":6},{"country":"Norway","day":10,"deaths":6},{"country":"Norway","day":11,"deaths":6},{"country":"Norway","day":12,"deaths":6},{"country":"Norway","day":13,"deaths":5},{"country":"Norway","day":14,"deaths":5},{"country":"Norway","day":15,"deaths":5},{"country":"Norway","day":16,"deaths":5},{"country":"Norway","day":17,"deaths":5},{"country":"Norway","day":18,"deaths":4},{"country":"Norway","day":19,"deaths":4},{"country":"Norway","day":20,"deaths":4},{"country":"Norway","day":21,"deaths":4},{"country":"Norway","day":22,"deaths":4},{"country":"Norway","day":23,"deaths":4},{"country":"Norway","day":24,"deaths":3},{"country":"Norway","day":25,"deaths":3},{"country":"Norway","day":26,"deaths":3},{"country":"Norway","day":27,"deaths":3},{"country":"Norway","day":28,"deaths":3},
{"country":"Denmark","day":0,"deaths":3},{"country":"Denmark","day":1,"deaths":4},{"country":"Denmark","day":2,"deaths":5},{"country":"Denmark","day":3,"deaths":5},{"country":"Denmark","day":4,"deaths":6},{"country":"Denmark","day":5,"deaths":7},{"country":"Denmark","day":6,"deaths":8},{"country":"Denmark","day":7,"deaths":9},{"country":"Denmark","day":8,"deaths":10},{"country":"Denmark","day":9,"deaths":10},{"country":"Denmark","day":10,"deaths":11},{"country":"Denmark","day":11,"deaths":12},{"country":"Denmark","day":12,"deaths":12},{"country":"Denmark","day":13,"deaths":13},{"country":"Denmark","day":14,"deaths":13},{"country":"Denmark","day":15,"deaths":14},{"country":"Denmark","day":16,"deaths":14},{"country":"Denmark","day":17,"deaths":14},{"country":"Denmark","day":18,"deaths":13},{"country":"Denmark","day":19,"deaths":13},{"country":"Denmark","day":20,"deaths":13},{"country":"Denmark","day":21,"deaths":12},{"country":"Denmark","day":22,"deaths":12},{"country":"Denmark","day":23,"deaths":12},{"country":"Denmark","day":24,"deaths":11},{"country":"Denmark","day":25,"deaths":11},{"country":"Denmark","day":26,"deaths":11},{"country":"Denmark","day":27,"deaths":10},{"country":"Denmark","day":28,"deaths":10},{"country":"Denmark","day":29,"deaths":10},{"country":"Denmark","day":30,"deaths":9},{"country":"Denmark","day":31,"deaths":9},{"country":"Denmark","day":32,"deaths":9},{"country":"Denmark","day":33,"deaths":8},{"country":"Denmark","day":34,"deaths":8},{"country":"Denmark","day":35,"deaths":8},
{"country":"Sweden","day":0,"deaths":4},{"country":"Sweden","day":1,"deaths":6},{"country":"Sweden","day":2,"deaths":8},{"country":"Sweden","day":3,"deaths":10},{"country":"Sweden","day":4,"deaths":11},{"country":"Sweden","day":5,"deaths":12},{"country":"Sweden","day":6,"deaths":14},{"country":"Sweden","day":7,"deaths":17},{"country":"Sweden","day":8,"deaths":22},{"country":"Sweden","day":9,"deaths":32},
{"country":"Sweden","day":10,"deaths":35},{"country":"Sweden","day":11,"deaths":38},{"country":"Sweden","day":12,"deaths":41},{"country":"Sweden","day":13,"deaths":49},{"country":"Sweden","day":14,"deaths":58},{"country":"Sweden","day":15,"deaths":62},{"country":"Sweden","day":16,"deaths":70},{"country":"Sweden","day":17,"deaths":73},{"country":"Sweden","day":18,"deaths":72},{"country":"Sweden","day":19,"deaths":69},
{"country":"Sweden","day":20,"deaths":63},{"country":"Sweden","day":21,"deaths":61},{"country":"Sweden","day":22,"deaths":73},{"country":"Sweden","day":23,"deaths":79},{"country":"Sweden","day":24,"deaths":77},{"country":"Sweden","day":25,"deaths":90},{"country":"Sweden","day":26,"deaths":92},{"country":"Sweden","day":27,"deaths":94},{"country":"Sweden","day":28,"deaths":105},{"country":"Sweden","day":29,"deaths":105},
{"country":"Sweden","day":30,"deaths":97},{"country":"Sweden","day":31,"deaths":107},{"country":"Sweden","day":32,"deaths":96},{"country":"Sweden","day":33,"deaths":94},{"country":"Sweden","day":34,"deaths":99}
      ]},
      "mark": {"type": "line", "strokeWidth": 3, "strokeJoin": "round", "clip": true},
      "encoding": {
        "x": {
          "field": "day",
          "type": "quantitative",
          "scale": {"domain": [0, 89], "nice": false, "zero": false},
          "axis": {
            "values": [0,2,4,6,8,10,12,14,16,18,20,22,24,26,28,30,32,34,36,38,40,42,44,46,48,50,52,54,56,58,60,62,64,66,68,70,72,74,76,78,80,82,84,86,88],
            "tickCount": 60,
            "labelExpr": "'Day ' + datum.value",
            "labelAngle": -50,
            "labelAlign": "right",
            "labelBaseline": "middle",
            "labelOverlap": false,
            "labelFlush": false,
            "labelBound": false,
            "grid": true,
            "tickSize": 6,
            "labelPadding": 3
          }
        },
        "y": {
          "field": "deaths",
          "type": "quantitative",
          "scale": {"domain": [0, 1000], "nice": false},
          "axis": {
            "values": [0,100,200,300,400,500,600,700,800,900,1000],
            "tickCount": 20,
            "format": "d",
            "grid": true,
            "tickSize": 9,
            "labelPadding": 2,
            "labelOverlap": false,
            "labelFlush": false
          }
        },
        "color": {
          "field": "country",
          "type": "nominal",
          "scale": {
            "domain": ["Sweden","Denmark","Norway","Finland","Iceland","United Kingdom","Portugal","Spain","Italy","France","Belgium","Netherlands","Germany","Switzerland","Austria","Slovenia","Hungary","Slovakia","Czechia","Poland","Korea, South","Japan","Taiwan*","Singapore","US","Canada","Brazil","Russia","China","South Africa","Australia","Iran"],
            "range": ["#ff6384","#ffcd56","#36a2eb","#fa8072","#eee8aa","#ffd700","#87cefa","#ffc0cb","#ffa07a","#4bc0c0","#9966ff","#00bfff","#9acd32","#ff9f40","#dda0dd","#adff2f","#ff8c00","#7b68ee","#90ee90","#4169e1","#00ced1","#da70d6","#ff6384","#ffcd56","#36a2eb","#fa8072","#eee8aa","#ffd700","#d3d3d3","#ffc0cb","#ffa07a","#4bc0c0"]
          },
          "legend": {
            "values": ["Sweden","Denmark","Norway","Finland","Iceland","United Kingdom","Portugal","Spain","Italy","France","Belgium"],
            "columns": 11,
            "legendY": 648,
            "encode": {
              "symbols": {"update": {"fill": {"scale": "color", "field": "value"}, "stroke": {"scale": "color", "field": "value"}, "strokeWidth": {"value": 1}, "opacity": {"value": 1}}}
            }
          }
        }
      }
    },
    {
      "data": {"values": [{}]},
      "mark": {"type": "rect", "fill": "transparent", "stroke": "#e0e0e0", "strokeWidth": 1, "cornerRadius": 4},
      "encoding": {
        "x": {"datum": -3.31, "type": "quantitative"},
        "x2": {"datum": 89.72},
        "y": {"datum": 1149.4, "type": "quantitative"},
        "y2": {"datum": -329.4}
      }
    },
    {
      "data": {"values": []},
      "mark": {"type": "point", "filled": true, "opacity": 1},
      "encoding": {
        "fill": {
          "field": "country",
          "type": "nominal",
          "scale": {
            "domain": ["Netherlands","Germany","Switzerland","Austria","Slovenia","Hungary","Slovakia","Czechia","Poland","Korea, South","Japan"],
            "range": ["#00bfff","#9acd32","#ff9f40","#dda0dd","#adff2f","#ff8c00","#7b68ee","#90ee90","#4169e1","#00ced1","#da70d6"]
          },
          "legend": {
            "columns": 11,
            "legendY": 672.5,
            "encode": {
              "symbols": {"update": {"fill": {"scale": "fill", "field": "value"}, "stroke": {"scale": "fill", "field": "value"}, "strokeWidth": {"value": 1}, "opacity": {"value": 1}, "fillOpacity": {"value": 1}}}
            }
          }
        }
      }
    },
    {
      "data": {"values": []},
      "mark": {"type": "point", "opacity": 1},
      "encoding": {
        "stroke": {
          "field": "country",
          "type": "nominal",
          "scale": {
            "domain": ["Taiwan*","Singapore","US","Canada","Brazil","Russia","China","South Africa","Australia","Iran"],
            "range": ["#ff6384","#ffcd56","#36a2eb","#fa8072","#eee8aa","#ffd700","#d3d3d3","#ffc0cb","#ffa07a","#4bc0c0"]
          },
          "legend": {
            "columns": 10,
            "legendX": -47,
            "legendY": 689,
            "columnPadding": -23,
            "labelOffset": 13,
            "symbolType": "M-3,0H3",
            "symbolStrokeWidth": 16
          }
        }
      }
    },
    {
      "data": {"values": [{}]},
      "mark": {"type": "rule", "strokeWidth": 1, "color": "#666666"},
      "encoding": {"x": {"datum": 16.97, "type": "quantitative"}, "x2": {"datum": 18.18}, "y": {"datum": -197, "type": "quantitative"}}
    },
    {
      "data": {"values": [{}]},
      "mark": {"type": "text", "text": "COVID-19 new deaths per day", "align": "left", "baseline": "middle", "font": "Liberation Sans", "fontSize": 22.8, "fill": "#1f1f2b"},
      "encoding": {"x": {"datum": -2.0, "type": "quantitative"}, "y": {"datum": 1090, "type": "quantitative"}}
    },
    {
      "data": {"values": [{}]},
      "mark": {"type": "text", "text": "SHOW / HIDE ALL", "align": "left", "baseline": "middle", "font": "Liberation Sans", "fontSize": 14.8, "fill": "#f50057"},
      "encoding": {"x": {"datum": -1.1, "type": "quantitative"}, "y": {"datum": 1034, "type": "quantitative"}}
    },
    {
      "data": {"values": [{}]},
      "mark": {"type": "text", "text": "TOP 10", "align": "left", "baseline": "middle", "font": "Liberation Sans", "fontSize": 14.8, "fill": "#f50057"},
      "encoding": {"x": {"datum": 8.62, "type": "quantitative"}, "y": {"datum": 1034, "type": "quantitative"}}
    },
    {
      "data": {"values": [{}]},
      "mark": {"type": "text", "text": "BOTTOM 10", "align": "left", "baseline": "middle", "font": "Liberation Sans", "fontSize": 14.8, "fill": "#f50057"},
      "encoding": {"x": {"datum": 13.17, "type": "quantitative"}, "y": {"datum": 1034, "type": "quantitative"}}
    },
    {
      "data": {"values": [{}]},
      "mark": {"type": "rule", "strokeWidth": 14, "strokeCap": "round", "color": "#fa80ab"},
      "encoding": {"x": {"datum": 40.62, "type": "quantitative"}, "x2": {"datum": 41.86}, "y": {"datum": 1034, "type": "quantitative"}}
    },
    {
      "data": {"values": [{}]},
      "mark": {"type": "rule", "strokeWidth": 14, "strokeCap": "round", "color": "#9e9e9e"},
      "encoding": {"x": {"datum": 48.69, "type": "quantitative"}, "x2": {"datum": 49.93}, "y": {"datum": 1034, "type": "quantitative"}}
    },
    {
      "data": {"values": [{}]},
      "mark": {"type": "rule", "strokeWidth": 14, "strokeCap": "round", "color": "#9e9e9e"},
      "encoding": {"x": {"datum": 54.9, "type": "quantitative"}, "x2": {"datum": 56.14}, "y": {"datum": 1034, "type": "quantitative"}}
    },
    {
      "data": {"values": [{}]},
      "mark": {"type": "rule", "strokeWidth": 14, "strokeCap": "round", "color": "#9e9e9e"},
      "encoding": {"x": {"datum": 59.93, "type": "quantitative"}, "x2": {"datum": 61.17}, "y": {"datum": 1034, "type": "quantitative"}}
    },
    {
      "data": {"values": [{}]},
      "mark": {"type": "rule", "strokeWidth": 14, "strokeCap": "round", "color": "#fa80ab"},
      "encoding": {"x": {"datum": 70.34, "type": "quantitative"}, "x2": {"datum": 71.59}, "y": {"datum": 1034, "type": "quantitative"}}
    },
    {
      "data": {"values": [{}]},
      "mark": {"type": "point", "shape": "circle", "size": 400, "filled": true, "fill": "#f50057", "opacity": 1},
      "encoding": {"x": {"datum": 41.66, "type": "quantitative"}, "y": {"datum": 1034, "type": "quantitative"}}
    },
    {
      "data": {"values": [{}]},
      "mark": {"type": "point", "shape": "circle", "size": 400, "filled": true, "fill": "#fafafa", "stroke": "#d0d0d0", "strokeWidth": 1, "opacity": 1},
      "encoding": {"x": {"datum": 48.9, "type": "quantitative"}, "y": {"datum": 1034, "type": "quantitative"}}
    },
    {
      "data": {"values": [{}]},
      "mark": {"type": "point", "shape": "circle", "size": 400, "filled": true, "fill": "#fafafa", "stroke": "#d0d0d0", "strokeWidth": 1, "opacity": 1},
      "encoding": {"x": {"datum": 55.1, "type": "quantitative"}, "y": {"datum": 1034, "type": "quantitative"}}
    },
    {
      "data": {"values": [{}]},
      "mark": {"type": "point", "shape": "circle", "size": 400, "filled": true, "fill": "#fafafa", "stroke": "#d0d0d0", "strokeWidth": 1, "opacity": 1},
      "encoding": {"x": {"datum": 60.14, "type": "quantitative"}, "y": {"datum": 1034, "type": "quantitative"}}
    },
    {
      "data": {"values": [{}]},
      "mark": {"type": "point", "shape": "circle", "size": 400, "filled": true, "fill": "#f50057", "opacity": 1},
      "encoding": {"x": {"datum": 71.38, "type": "quantitative"}, "y": {"datum": 1034, "type": "quantitative"}}
    },
    {
      "data": {"values": [{}]},
      "mark": {"type": "text", "text": "7-Day MA", "align": "left", "baseline": "middle", "font": "Roboto", "fontSize": 16, "fill": "#222222"},
      "encoding": {"x": {"datum": 42.69, "type": "quantitative"}, "y": {"datum": 1034, "type": "quantitative"}}
    },
    {
      "data": {"values": [{}]},
      "mark": {"type": "text", "text": "Week", "align": "left", "baseline": "middle", "font": "Roboto", "fontSize": 16, "fill": "#222222"},
      "encoding": {"x": {"datum": 51.03, "type": "quantitative"}, "y": {"datum": 1034, "type": "quantitative"}}
    },
    {
      "data": {"values": [{}]},
      "mark": {"type": "text", "text": "Log", "align": "left", "baseline": "middle", "font": "Roboto", "fontSize": 16, "fill": "#222222"},
      "encoding": {"x": {"datum": 57.17, "type": "quantitative"}, "y": {"datum": 1034, "type": "quantitative"}}
    },
    {
      "data": {"values": [{}]},
      "mark": {"type": "text", "text": "Per 1M Capita", "align": "left", "baseline": "middle", "font": "Roboto", "fontSize": 16, "fill": "#222222"},
      "encoding": {"x": {"datum": 62.28, "type": "quantitative"}, "y": {"datum": 1034, "type": "quantitative"}}
    },
    {
      "data": {"values": [{}]},
      "mark": {"type": "text", "text": "Day 0", "align": "left", "baseline": "middle", "font": "Roboto", "fontSize": 16, "fill": "#222222"},
      "encoding": {"x": {"datum": 72.41, "type": "quantitative"}, "y": {"datum": 1034, "type": "quantitative"}}
    },
    {
      "data": {"values": [{}]},
      "mark": {"type": "text", "text": "since", "align": "left", "baseline": "middle", "font": "Roboto", "fontSize": 16, "fill": "#444444"},
      "encoding": {"x": {"datum": 76.28, "type": "quantitative"}, "y": {"datum": 1034, "type": "quantitative"}}
    },
    {
      "data": {"values": [{}]},
      "mark": {"type": "text", "text": "3", "align": "left", "baseline": "middle", "font": "Roboto", "fontSize": 16, "fill": "#222222"},
      "encoding": {"x": {"datum": 79.31, "type": "quantitative"}, "y": {"datum": 1039, "type": "quantitative"}}
    },
    {
      "data": {"values": [{}]},
      "mark": {"type": "rule", "strokeWidth": 1, "color": "#949494"},
      "encoding": {"x": {"datum": 78.76, "type": "quantitative"}, "x2": {"datum": 82.14}, "y": {"datum": 1013.6, "type": "quantitative"}}
    },
    {
      "data": {"values": [{}]},
      "mark": {"type": "text", "text": "deaths a day", "align": "left", "baseline": "middle", "font": "Roboto", "fontSize": 16, "fill": "#444444"},
      "encoding": {"x": {"datum": 82.21, "type": "quantitative"}, "y": {"datum": 1034, "type": "quantitative"}}
    },
    {
      "data": {"values": [{}]},
      "mark": {"type": "text", "text": "ADD DATASETS", "align": "left", "baseline": "middle", "font": "Liberation Sans", "fontSize": 16, "fill": "#f50057"},
      "encoding": {"x": {"datum": -2.0, "type": "quantitative"}, "y": {"datum": -278.4, "type": "quantitative"}}
    }
  ]
}
